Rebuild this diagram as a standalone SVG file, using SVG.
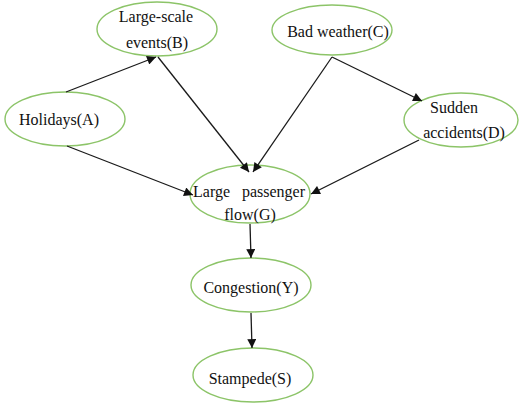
<svg xmlns="http://www.w3.org/2000/svg" width="520" height="407" viewBox="0 0 520 407">
<defs>
<style>
.n{fill:#fff;stroke:#8cc468;stroke-width:1.4}
.t{font-family:'Liberation Serif','Times New Roman',serif;font-size:16px;fill:#111}
.e{stroke:#1a1a1a;stroke-width:1.3;fill:none;marker-end:url(#ah)}
</style>
<marker id="ah" viewBox="0 0 10 10" refX="10" refY="5" markerWidth="10" markerHeight="9" markerUnits="userSpaceOnUse" orient="auto">
<path d="M0,0 L10,5 L0,10 z" fill="#111"/>
</marker>
</defs>
<rect width="520" height="407" fill="#fff"/>
<g id="nodeB"><ellipse class="n" cx="157" cy="29" rx="60" ry="27"/>
<text class="t" x="156" y="22" text-anchor="middle">Large-scale</text>
<text class="t" x="157" y="48" text-anchor="middle">events(B)</text></g>
<g id="nodeA"><ellipse class="n" cx="65" cy="119" rx="60" ry="27"/>
<text class="t" x="59" y="125" text-anchor="middle">Holidays(A)</text></g>
<g id="nodeC"><ellipse class="n" cx="332" cy="30" rx="60" ry="25"/>
<text class="t" x="338" y="37" text-anchor="middle">Bad weather(C)</text></g>
<g id="nodeD"><ellipse class="n" cx="461" cy="120" rx="57" ry="27"/>
<text class="t" x="454" y="113" text-anchor="middle">Sudden</text>
<text class="t" x="464" y="138" text-anchor="middle">accidents(D)</text></g>
<g id="nodeG"><ellipse class="n" cx="250" cy="194" rx="60" ry="29"/>
<text class="t" x="193" y="197">Large</text>
<text class="t" x="305" y="197" text-anchor="end">passenger</text>
<text class="t" x="250" y="220" text-anchor="middle">flow(G)</text></g>
<g id="nodeY"><ellipse class="n" cx="251" cy="285" rx="60" ry="27"/>
<text class="t" x="251" y="293" text-anchor="middle">Congestion(Y)</text></g>
<g id="nodeS"><ellipse class="n" cx="253" cy="375" rx="60" ry="27"/>
<text class="t" x="250" y="384" text-anchor="middle">Stampede(S)</text></g>
<g id="edges">
<line class="e" x1="66" y1="92" x2="156" y2="57"/>
<line class="e" x1="158" y1="57" x2="249" y2="172"/>
<line class="e" x1="67" y1="146" x2="193" y2="195"/>
<line class="e" x1="332" y1="57" x2="253" y2="172"/>
<line class="e" x1="332" y1="57" x2="422" y2="101"/>
<line class="e" x1="419" y1="140" x2="311" y2="194"/>
<line class="e" x1="250" y1="224" x2="251" y2="258"/>
<line class="e" x1="251" y1="313" x2="252" y2="348"/>
</g>
</svg>
